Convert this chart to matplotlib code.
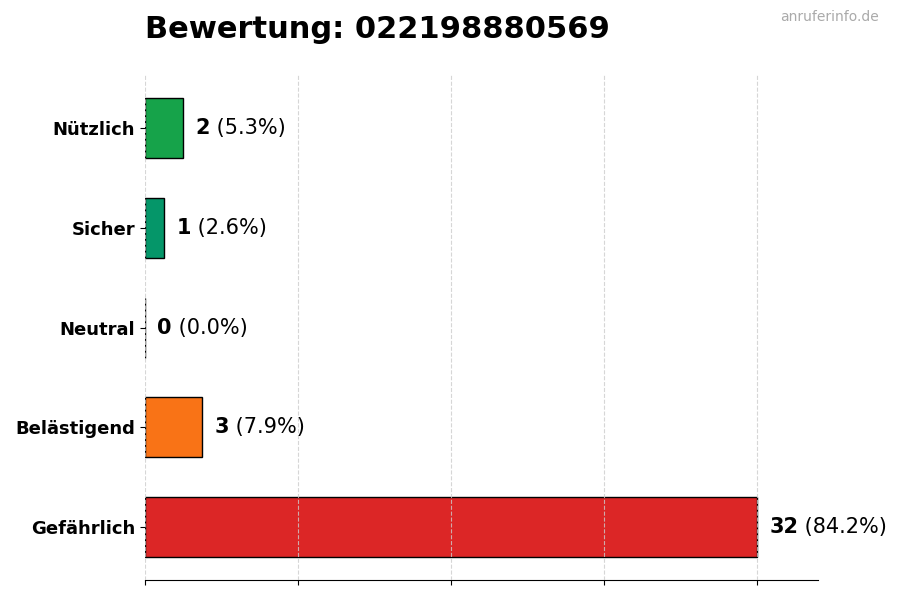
import matplotlib
matplotlib.use("Agg")
import matplotlib.pyplot as plt
from matplotlib.transforms import offset_copy

categories = ["Nützlich", "Sicher", "Neutral", "Belästigend", "Gefährlich"]
values = [2, 1, 0, 3, 32]
percents = ["5.3%", "2.6%", "0.0%", "7.9%", "84.2%"]
colors = ["#16a34a", "#059669", "#9ca3af", "#f97316", "#dc2626"]
title = "Bewertung: 022198880569"
watermark = "anruferinfo.de"

fig = plt.figure(figsize=(9, 6), dpi=100)
ax = fig.add_axes([0.161, 0.033, 0.748, 0.842])

ypos = list(range(len(categories)))[::-1]
ax.barh(ypos, values, height=0.6, color=colors, edgecolor="black", linewidth=1, zorder=2)
ax.set_yticks(ypos)
ax.set_yticklabels(categories, fontsize=13, fontweight="bold")
ax.set_ylim(-0.53, 4.53)
ax.set_xlim(0, max(values) * 1.1)
ax.set_xticks([0, 8, 16, 24, 32])
ax.set_xticklabels([])
ax.grid(axis="x", linestyle="--", color="#cccccc", linewidth=0.8, alpha=0.8, zorder=3)
ax.set_axisbelow(False)
for s in ["top", "right", "left"]:
    ax.spines[s].set_visible(False)

fig.canvas.draw()
renderer = fig.canvas.get_renderer()
off = max(values) * 0.02
for y, v, p in zip(ypos, values, percents):
    t = ax.text(v + off, y, str(v), fontsize=15, fontweight="bold", va="center", ha="left")
    w = t.get_window_extent(renderer=renderer).width
    tr = offset_copy(ax.transData, fig=fig, x=w, y=0, units="dots")
    ax.text(v + off, y, f" ({p})", fontsize=15, va="center", ha="left", transform=tr)

fig.text(0.161, 0.95, title, fontsize=22, fontweight="bold", ha="left", va="center")
fig.text(0.976, 0.972, watermark, fontsize=10, color="#aaaaaa", ha="right", va="center")

fig.savefig("out.png", dpi=100)
